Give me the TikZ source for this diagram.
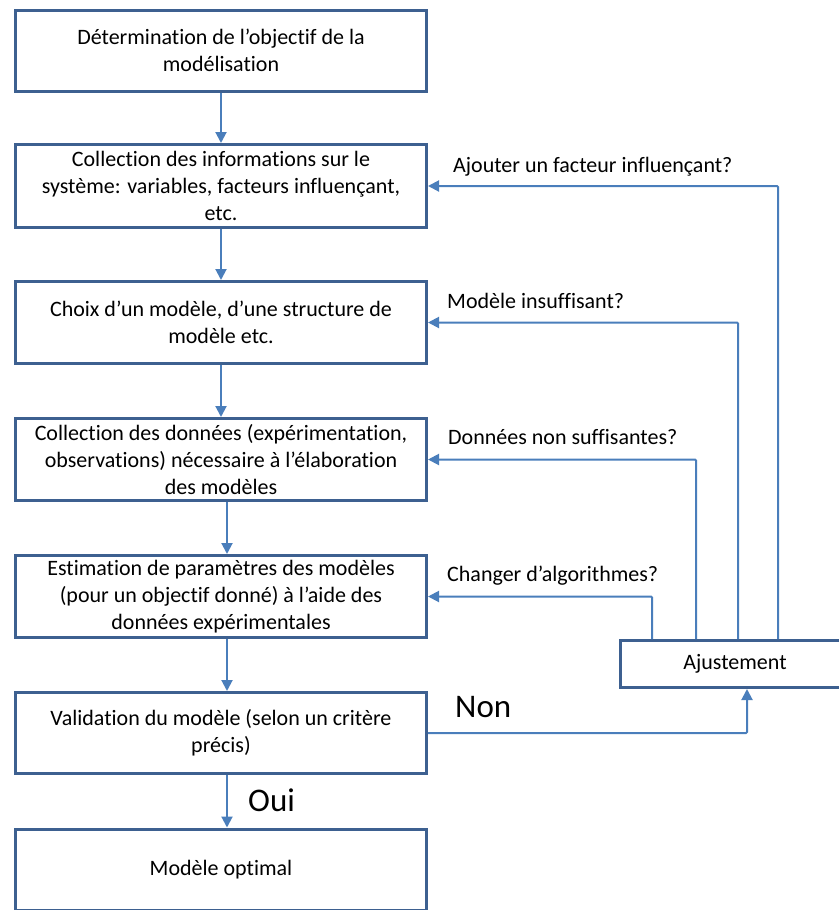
\documentclass[tikz,border=0pt]{standalone}
\usepackage{fontspec}
\setmainfont{Carlito}[Ligatures={NoCommon}]
\usetikzlibrary{arrows.meta}
\definecolor{boxline}{HTML}{3D6090}
\definecolor{arrowc}{HTML}{4A7EBB}
\begin{document}
\begin{tikzpicture}[x=1bp,y=-1bp,
  box/.style={draw=boxline, line width=3bp, fill=white, minimum width=411bp, align=center,
    font=\fontsize{22bp}{26.8bp}\selectfont, inner sep=0pt},
  arr/.style={draw=arrowc, line width=2bp, -{Triangle[length=11bp,width=11bp]}},
  fb/.style={draw=arrowc, line width=2bp, -{Triangle[length=11bp,width=11bp]}, rounded corners=1bp},
  lbl/.style={anchor=base west, font=\fontsize{22bp}{26bp}\selectfont, inner sep=0pt},
  big/.style={anchor=base west, font=\fontsize{33bp}{40bp}\selectfont, inner sep=0pt}]
\useasboundingbox (0,0) rectangle (839,910);
\clip (0,0) rectangle (839,910);

\node[box, minimum height=81bp] (b1) at (221,50.5) {Détermination de l’objectif de la\\modélisation};
\node[box, minimum height=83bp] (b2) at (221,186) {Collection des informations sur le\\système: variables, facteurs influençant,\\etc.};
\node[box, minimum height=82bp] (b3) at (221,322.5) {Choix d’un modèle, d’une structure de\\modèle etc.};
\node[box, minimum height=82bp] (b4) at (221,459.5) {Collection des données (expérimentation,\\observations) nécessaire à l’élaboration\\des modèles};
\node[box, minimum height=82bp] (b5) at (221,596.5) {Estimation de paramètres des modèles\\(pour un objectif donné) à l’aide des\\données expérimentales};
\node[box, minimum height=81bp] (b6) at (221,733) {Validation du modèle (selon un critère\\précis)};
\node[box, minimum height=81bp] (b7) at (221,869.5) {Modèle optimal};
\node[box, minimum width=229bp, minimum height=47bp] (aj) at (735,664) {Ajustement};

\draw[arr] (b1) -- (b2);
\draw[arr] (b2) -- (b3);
\draw[arr] (b3) -- (b4);
\draw[arr] ([xshift=6bp]b4.south) -- ([xshift=6bp]b5.north);
\draw[arr] ([xshift=6bp]b5.south) -- ([xshift=6bp]b6.north);
\draw[arr] ([xshift=6bp]b6.south) -- ([xshift=6bp]b7.north);

\coordinate (f1) at (778,0);
\coordinate (f2) at (738,0);
\coordinate (f3) at (696,0);
\coordinate (f4) at (652,0);
\coordinate (n1) at (747,0);

\draw[fb] (f1 |- aj.north) |- (b2.east);
\draw[fb] (f2 |- aj.north) |- (b3.east);
\draw[fb] (f3 |- aj.north) |- (b4.east);
\draw[fb] (f4 |- aj.north) |- (b5.east);
\draw[fb] (b6.east) -| (n1 |- aj.south);

\node[lbl] (l1) at (453,172) {Ajouter un facteur influençant?};
\node[lbl] (l2) at (447,308) {Modèle insuffisant?};
\node[lbl] (l3) at (448,444) {Données non suffisantes?};
\node[lbl] (l4) at (447,581) {Changer d’algorithmes?};
\node[big] (non) at (455,717) {Non};
\node[big] (oui) at (248,811) {Oui};
\end{tikzpicture}
\end{document}
